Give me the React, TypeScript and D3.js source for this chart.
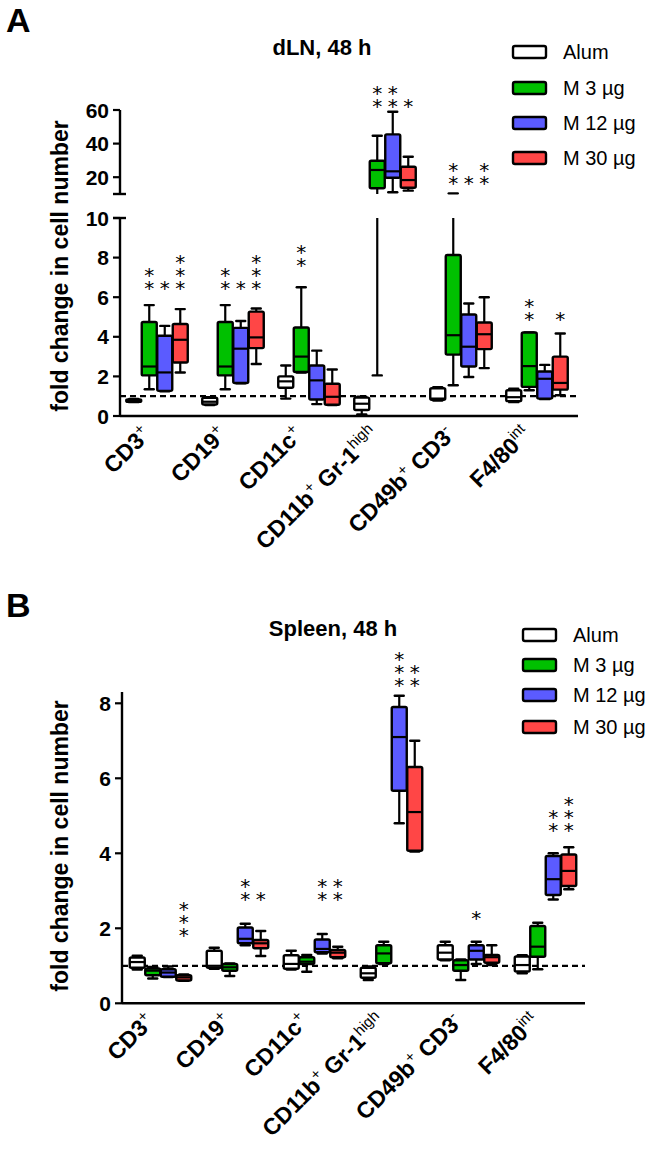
import React from "react";
import * as d3 from "d3";

// ---------- data ----------
const categories = ["CD3^+", "CD19^+", "CD11c^+", "CD11b^+ Gr-1^high", "CD49b^+ CD3^-", "F4/80^int"];
const groups = ["Alum", "M 3 µg", "M 12 µg", "M 30 µg"];
const groupColors = ["#ffffff", "#00c000", "#5b5bff", "#ff4646"];

// [min, q1, median, q3, max] per category
const dlnAlum = [[0.7, 0.72, 0.78, 0.83, 0.86], [0.55, 0.58, 0.72, 0.92, 0.95], [0.88, 1.43, 1.75, 2.0, 2.55], [0.08, 0.3, 0.62, 0.93, 0.97], [0.78, 0.82, 0.88, 1.4, 1.45], [0.7, 0.75, 0.95, 1.3, 1.38]];
const dlnM3 = [[1.35, 2.05, 2.5, 4.75, 5.6], [1.35, 2.05, 2.5, 4.75, 5.6], [2.2, 2.22, 3.0, 4.47, 6.5], [2.05, 13.4, 24.3, 29.8, 44.7], [1.55, 3.1, 4.08, 8.13, 10.4], [1.3, 1.47, 2.52, 4.22, 4.22]];
const dlnM12 = [[1.25, 1.27, 2.2, 4.05, 4.55], [1.65, 1.67, 3.4, 4.45, 4.8], [0.6, 0.83, 1.8, 2.55, 3.3], [11, 19.7, 23.5, 45.5, 59], [1.97, 2.5, 3.5, 5.13, 5.68], [0.85, 0.88, 1.88, 2.25, 2.58]];
const dlnM30 = [[2.2, 2.7, 3.85, 4.65, 5.4], [2.63, 3.43, 3.97, 5.27, 5.43], [0.55, 0.57, 0.97, 1.63, 2.35], [12, 13.75, 18.3, 26.25, 32.2], [2.42, 3.38, 4.13, 4.72, 6.0], [1.05, 1.33, 1.67, 3.0, 4.17]];

const spAlum = [[0.9, 0.95, 1.1, 1.22, 1.27], [0.92, 0.95, 1.0, 1.4, 1.48], [0.9, 0.92, 1.05, 1.28, 1.4], [0.62, 0.68, 0.8, 0.95, 0.98], [1.15, 1.17, 1.35, 1.55, 1.64], [0.8, 0.85, 1.02, 1.25, 1.28]];
const spM3 = [[0.66, 0.75, 0.87, 0.93, 0.97], [0.73, 0.87, 0.96, 1.05, 1.06], [0.84, 1.05, 1.11, 1.23, 1.29], [1.05, 1.07, 1.33, 1.55, 1.64], [0.62, 0.87, 1.02, 1.15, 1.17], [0.91, 1.24, 1.51, 2.06, 2.15]];
const spM12 = [[0.7, 0.71, 0.82, 0.91, 0.98], [1.55, 1.6, 1.72, 2.02, 2.12], [1.33, 1.36, 1.45, 1.7, 1.85], [4.8, 5.67, 7.1, 7.9, 8.2], [1.05, 1.17, 1.4, 1.55, 1.64], [2.77, 2.89, 3.31, 3.93, 4.0]];
const spM30 = [[0.6, 0.61, 0.69, 0.75, 0.77], [1.26, 1.47, 1.6, 1.69, 1.93], [1.2, 1.23, 1.35, 1.42, 1.51], [4.05, 4.07, 5.1, 6.3, 7.0], [1.02, 1.08, 1.23, 1.29, 1.55], [3.04, 3.13, 3.53, 3.97, 4.16]];

// significance stars: [categoryIndex, groupIndex, count, value of lowest star]
const dlnStars = [[0, 1, 2, 6.65], [0, 2, 1, 6.65], [0, 3, 3, 6.65], [1, 1, 2, 6.65], [1, 2, 1, 6.65], [1, 3, 3, 6.65], [2, 1, 2, 7.85], [3, 1, 2, 64.8], [3, 2, 2, 64.8], [3, 3, 1, 64.8], [4, 1, 2, 18.75], [4, 2, 1, 18.75], [4, 3, 2, 18.75], [5, 1, 2, 5.1], [5, 3, 1, 5.1]];
const spStars = [[0, 3, 3, 1.94], [1, 2, 2, 2.89], [1, 3, 1, 2.89], [2, 2, 2, 2.89], [2, 3, 2, 2.89], [3, 2, 3, 8.6], [3, 3, 2, 8.6], [4, 2, 1, 2.38], [5, 2, 2, 4.73], [5, 3, 3, 4.73]];

const dlnLowTicks = [0, 2, 4, 6, 8, 10];
const dlnHighTicks = [20, 40, 60];
const spTicks = [0, 2, 4, 6, 8];
const yTitle = "fold change in cell number";

const FONT = "'Liberation Sans', Arial, sans-serif";

function parseLabel(label: string) {
  return label.split(" ").map((tok) => {
    const [base, sup] = tok.split("^");
    return { base, sup: sup || "" };
  });
}

type YMap = {
  y: (v: number) => number;
  segs: (a: number, b: number) => [number, number][];
};

function makeBroken(low: d3.ScaleLinear<number, number>, high: d3.ScaleLinear<number, number> | null, brk: number): YMap {
  const y = (v: number) => (high && v > brk ? high(v) : low(v));
  const segs = (a: number, b: number): [number, number][] => {
    if (!high || (a <= brk && b <= brk)) return [[low(a), low(b)]];
    if (a > brk && b > brk) return [[high(a), high(b)]];
    return [[low(a), low(brk)], [high(brk), high(b)]];
  };
  return { y, segs };
}

function Panel(props: any) {
  const p = props;
  const x = d3.scaleBand().domain(categories).range(p.xRange).padding(0);
  const sub = d3.scaleBand().domain(groups).range([-31, 31]).padding(0);
  const bw = 15;
  const cap = 9;
  const els: React.ReactNode[] = [];
  const cxOf = (ci: number, gi: number) =>
    (x(categories[ci]) as number) + x.bandwidth() / 2 + (sub(groups[gi]) as number) + sub.bandwidth() / 2;

  categories.forEach((c, ci) => {
    groups.forEach((g, gi) => {
      const s = p.data[gi][ci];
      const cx = cxOf(ci, gi);
      const [mn, q1, md, q3, mx] = s;
      const key = `${ci}-${gi}`;
      const lines: [number, number][] = [...p.ymap.segs(mn, q1), ...p.ymap.segs(q3, mx)];
      lines.forEach(([y1, y2], li) => {
        els.push(<line key={key + "w" + li} x1={cx} x2={cx} y1={y1} y2={y2} stroke="#000" strokeWidth={2.2} />);
      });
      els.push(<line key={key + "c1"} x1={cx - cap / 2} x2={cx + cap / 2} y1={p.ymap.y(mn)} y2={p.ymap.y(mn)} stroke="#000" strokeWidth={2.4} strokeLinecap="round" />);
      els.push(<line key={key + "c2"} x1={cx - cap / 2} x2={cx + cap / 2} y1={p.ymap.y(mx)} y2={p.ymap.y(mx)} stroke="#000" strokeWidth={2.4} strokeLinecap="round" />);
      const yt = p.ymap.y(q3);
      const yb = p.ymap.y(q1);
      els.push(<rect key={key + "b"} x={cx - bw / 2} y={yt} width={bw} height={Math.max(yb - yt, 1)} fill={groupColors[gi]} stroke="#000" strokeWidth={2.4} strokeLinejoin="round" rx={1.5} />);
      els.push(<line key={key + "m"} x1={cx - bw / 2} x2={cx + bw / 2} y1={p.ymap.y(md)} y2={p.ymap.y(md)} stroke="#000" strokeWidth={2.2} />);
    });
  });

  // one text element per star column (stacked asterisks)
  const starEls = p.stars.map(([ci, gi, n, base]: number[], si: number) => {
    const cx = cxOf(ci, gi);
    const y0 = p.ymap.y(base) + 11;
    return (
      <text key={`s${si}`} textAnchor="middle" fontFamily="'DejaVu Sans', sans-serif" fontSize={20}>
        {d3.range(n).map((i) => (
          <tspan key={i} x={cx} y={y0 - i * 13}>*</tspan>
        ))}
      </text>
    );
  });

  return (
    <g>
      <text x={6} y={p.letterY} fontFamily={FONT} fontWeight="bold" fontSize={34}>{p.letter}</text>
      <text x={p.titleX} y={p.titleY} textAnchor="middle" fontFamily={FONT} fontWeight="bold" fontSize={22}>{p.title}</text>
      {/* legend */}
      {groups.map((g, gi) => (
        <g key={g}>
          <rect x={p.legendX} y={p.legendYs[gi] - 6} width={33} height={12} rx={2} fill={groupColors[gi]} stroke="#000" strokeWidth={2.4} />
          <text x={p.legendX + 50} y={p.legendYs[gi] + 7} fontFamily={FONT} fontSize={20}>{g}</text>
        </g>
      ))}
      {/* y title */}
      <text transform={`translate(68,${p.yTitleY}) rotate(-90)`} textAnchor="middle" fontFamily={FONT} fontWeight="bold" fontSize={23}>{yTitle}</text>
      {/* dashed reference line */}
      <line x1={p.axisX} x2={p.xAxisEnd} y1={p.oneY} y2={p.oneY} stroke="#000" strokeWidth={2.2} strokeDasharray="6,4" />
      {els}
      {starEls}
      {/* axes */}
      <line x1={p.axisX} x2={p.xAxisEnd} y1={p.zeroY} y2={p.zeroY} stroke="#000" strokeWidth={2.4} />
      {p.brokenLowTop !== undefined ? (
        <g>
          <line x1={p.axisX} x2={p.axisX} y1={p.zeroY} y2={p.brokenLowTop} stroke="#000" strokeWidth={2.4} />
          <line x1={p.axisX - 7} x2={p.axisX + 6} y1={p.brokenLowTop} y2={p.brokenLowTop} stroke="#000" strokeWidth={2.4} />
          <line x1={p.axisX} x2={p.axisX} y1={p.brokenHighBottom} y2={p.axisTop} stroke="#000" strokeWidth={2.4} />
          <line x1={p.axisX - 7} x2={p.axisX + 6} y1={p.brokenHighBottom} y2={p.brokenHighBottom} stroke="#000" strokeWidth={2.4} />
        </g>
      ) : (
        <line x1={p.axisX} x2={p.axisX} y1={p.zeroY} y2={p.axisTop} stroke="#000" strokeWidth={2.4} />
      )}
      {p.lowTicks.map((t: number) => (
        <g key={"lt" + t}>
          <line x1={p.axisX - 7} x2={p.axisX} y1={p.lowScale(t)} y2={p.lowScale(t)} stroke="#000" strokeWidth={2.2} />
          <text x={p.axisX - 11} y={p.lowScale(t) + 7.5} textAnchor="end" fontFamily={FONT} fontWeight="bold" fontSize={21}>{t}</text>
        </g>
      ))}
      {p.highTicks && p.highTicks.map((t: number) => (
        <g key={"ht" + t}>
          <line x1={p.axisX - 7} x2={p.axisX} y1={p.highScale(t)} y2={p.highScale(t)} stroke="#000" strokeWidth={2.2} />
          <text x={p.axisX - 11} y={p.highScale(t) + 7.5} textAnchor="end" fontFamily={FONT} fontWeight="bold" fontSize={21}>{t}</text>
        </g>
      ))}
      {/* x labels */}
      {categories.map((c) => {
        const gx = (x(c) as number) + x.bandwidth() / 2;
        const parts = parseLabel(c);
        return (
          <text key={c} transform={`translate(${gx - 5},${p.labelY}) rotate(-45)`} textAnchor="end" fontFamily={FONT} fontWeight="bold" fontSize={23}>
            {parts.map((pt, i) => (
              <React.Fragment key={i}>
                <tspan>{(i > 0 ? " " : "") + pt.base}</tspan>
                {pt.sup && <tspan dy={-9} fontSize={15} fontWeight="normal">{pt.sup}</tspan>}
                {pt.sup && <tspan dy={9} fontSize={23}>{"\u200b"}</tspan>}
              </React.Fragment>
            ))}
          </text>
        );
      })}
    </g>
  );
}

export default function App() {
  const aLow = d3.scaleLinear().domain([0, 10]).range([416, 218]);
  const aHigh = d3.scaleLinear().domain([10, 60]).range([194, 110]);
  const aMap = makeBroken(aLow, aHigh, 10);

  const bScale = d3.scaleLinear().domain([0, 8]).range([1003.3, 703.3]);
  const bMap = makeBroken(bScale, null, 1e9);

  return (
    <div style={{ position: "absolute", left: 0, top: 0 }}>
      <svg width={664} height={1154} style={{ display: "block", background: "#fff" }}>
        <Panel
          letter="A" letterY={32} title="dLN, 48 h" titleX={322} titleY={55}
          data={[dlnAlum, dlnM3, dlnM12, dlnM30]} stars={dlnStars}
          xRange={[119, 575]} xAxisEnd={578} axisX={120}
          ymap={aMap} zeroY={aLow(0)} oneY={aLow(1)}
          lowTicks={dlnLowTicks} lowScale={aLow}
          highTicks={dlnHighTicks} highScale={aHigh}
          axisTop={aHigh(60)} brokenLowTop={aLow(10)} brokenHighBottom={aHigh(10)}
          legendX={513} legendYs={[52, 88, 123, 158]} labelY={436} yTitleY={266}
        />
        <Panel
          letter="B" letterY={617} title="Spleen, 48 h" titleX={333} titleY={636}
          data={[spAlum, spM3, spM12, spM30]} stars={spStars}
          xRange={[122, 584]} xAxisEnd={585} axisX={122}
          ymap={bMap} zeroY={bScale(0)} oneY={bScale(1)}
          lowTicks={spTicks} lowScale={bScale}
          axisTop={bScale(8.3)}
          legendX={523} legendYs={[635, 665, 695, 727]} labelY={1023} yTitleY={846}
        />
      </svg>
    </div>
  );
}
